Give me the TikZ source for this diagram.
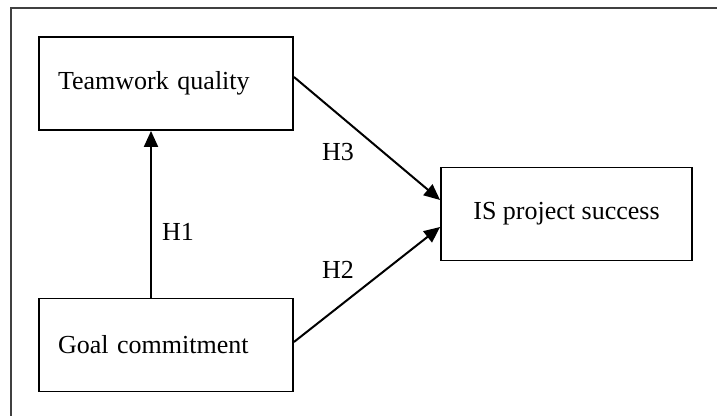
\documentclass[tikz,border=0pt]{standalone}
\usepackage{fontspec}
\setmainfont{Liberation Serif}
\usetikzlibrary{arrows.meta}
\tikzstyle{construct}=[draw=black,line width=1.4pt,minimum height=69.75pt,inner ysep=0pt]
\tikzstyle{leftconstruct}=[construct,inner xsep=14.25pt,text width=162pt,align=left]
\tikzstyle{hypo}=[-{Triangle[length=12pt,width=10.5pt]},line width=1.5pt]
\tikzstyle{hlabel}=[inner sep=0pt]
\begin{document}
\begin{tikzpicture}[x=0.75pt,y=-0.75pt,font=\fontsize{19.5}{23}\selectfont]
	\useasboundingbox (0,0) rectangle (717,416);
	% outer frame (only top and left edges show)
	\draw[line width=1pt,black!75] (11,416) -- (11,8) -- (717,8);
	% constructs
	\node[leftconstruct] (tq) at (166,83.5) {\raisebox{-1.5pt}{Teamwork quality}};
	\node[leftconstruct] (gc) at (166,345) {Goal commitment};
	\node[construct,minimum width=188.25pt,align=center] (isps) at (566.5,214) {IS project success};
	% hypotheses
	\draw[hypo] ([xshift=-11.25pt]gc.north) -- ([xshift=-11.25pt]tq.south);
	\draw[hypo] ([yshift=4.9pt]tq.east) -- ([yshift=10.5pt]isps.west);
	\draw[hypo] ([yshift=2.25pt]gc.east) -- ([yshift=-9.75pt]isps.west);
	\node[hlabel] (h1) at (178,232) {H1};
	\node[hlabel] (h3) at (338,152) {H3};
	\node[hlabel] (h2) at (338,270) {H2};
\end{tikzpicture}
\end{document}
